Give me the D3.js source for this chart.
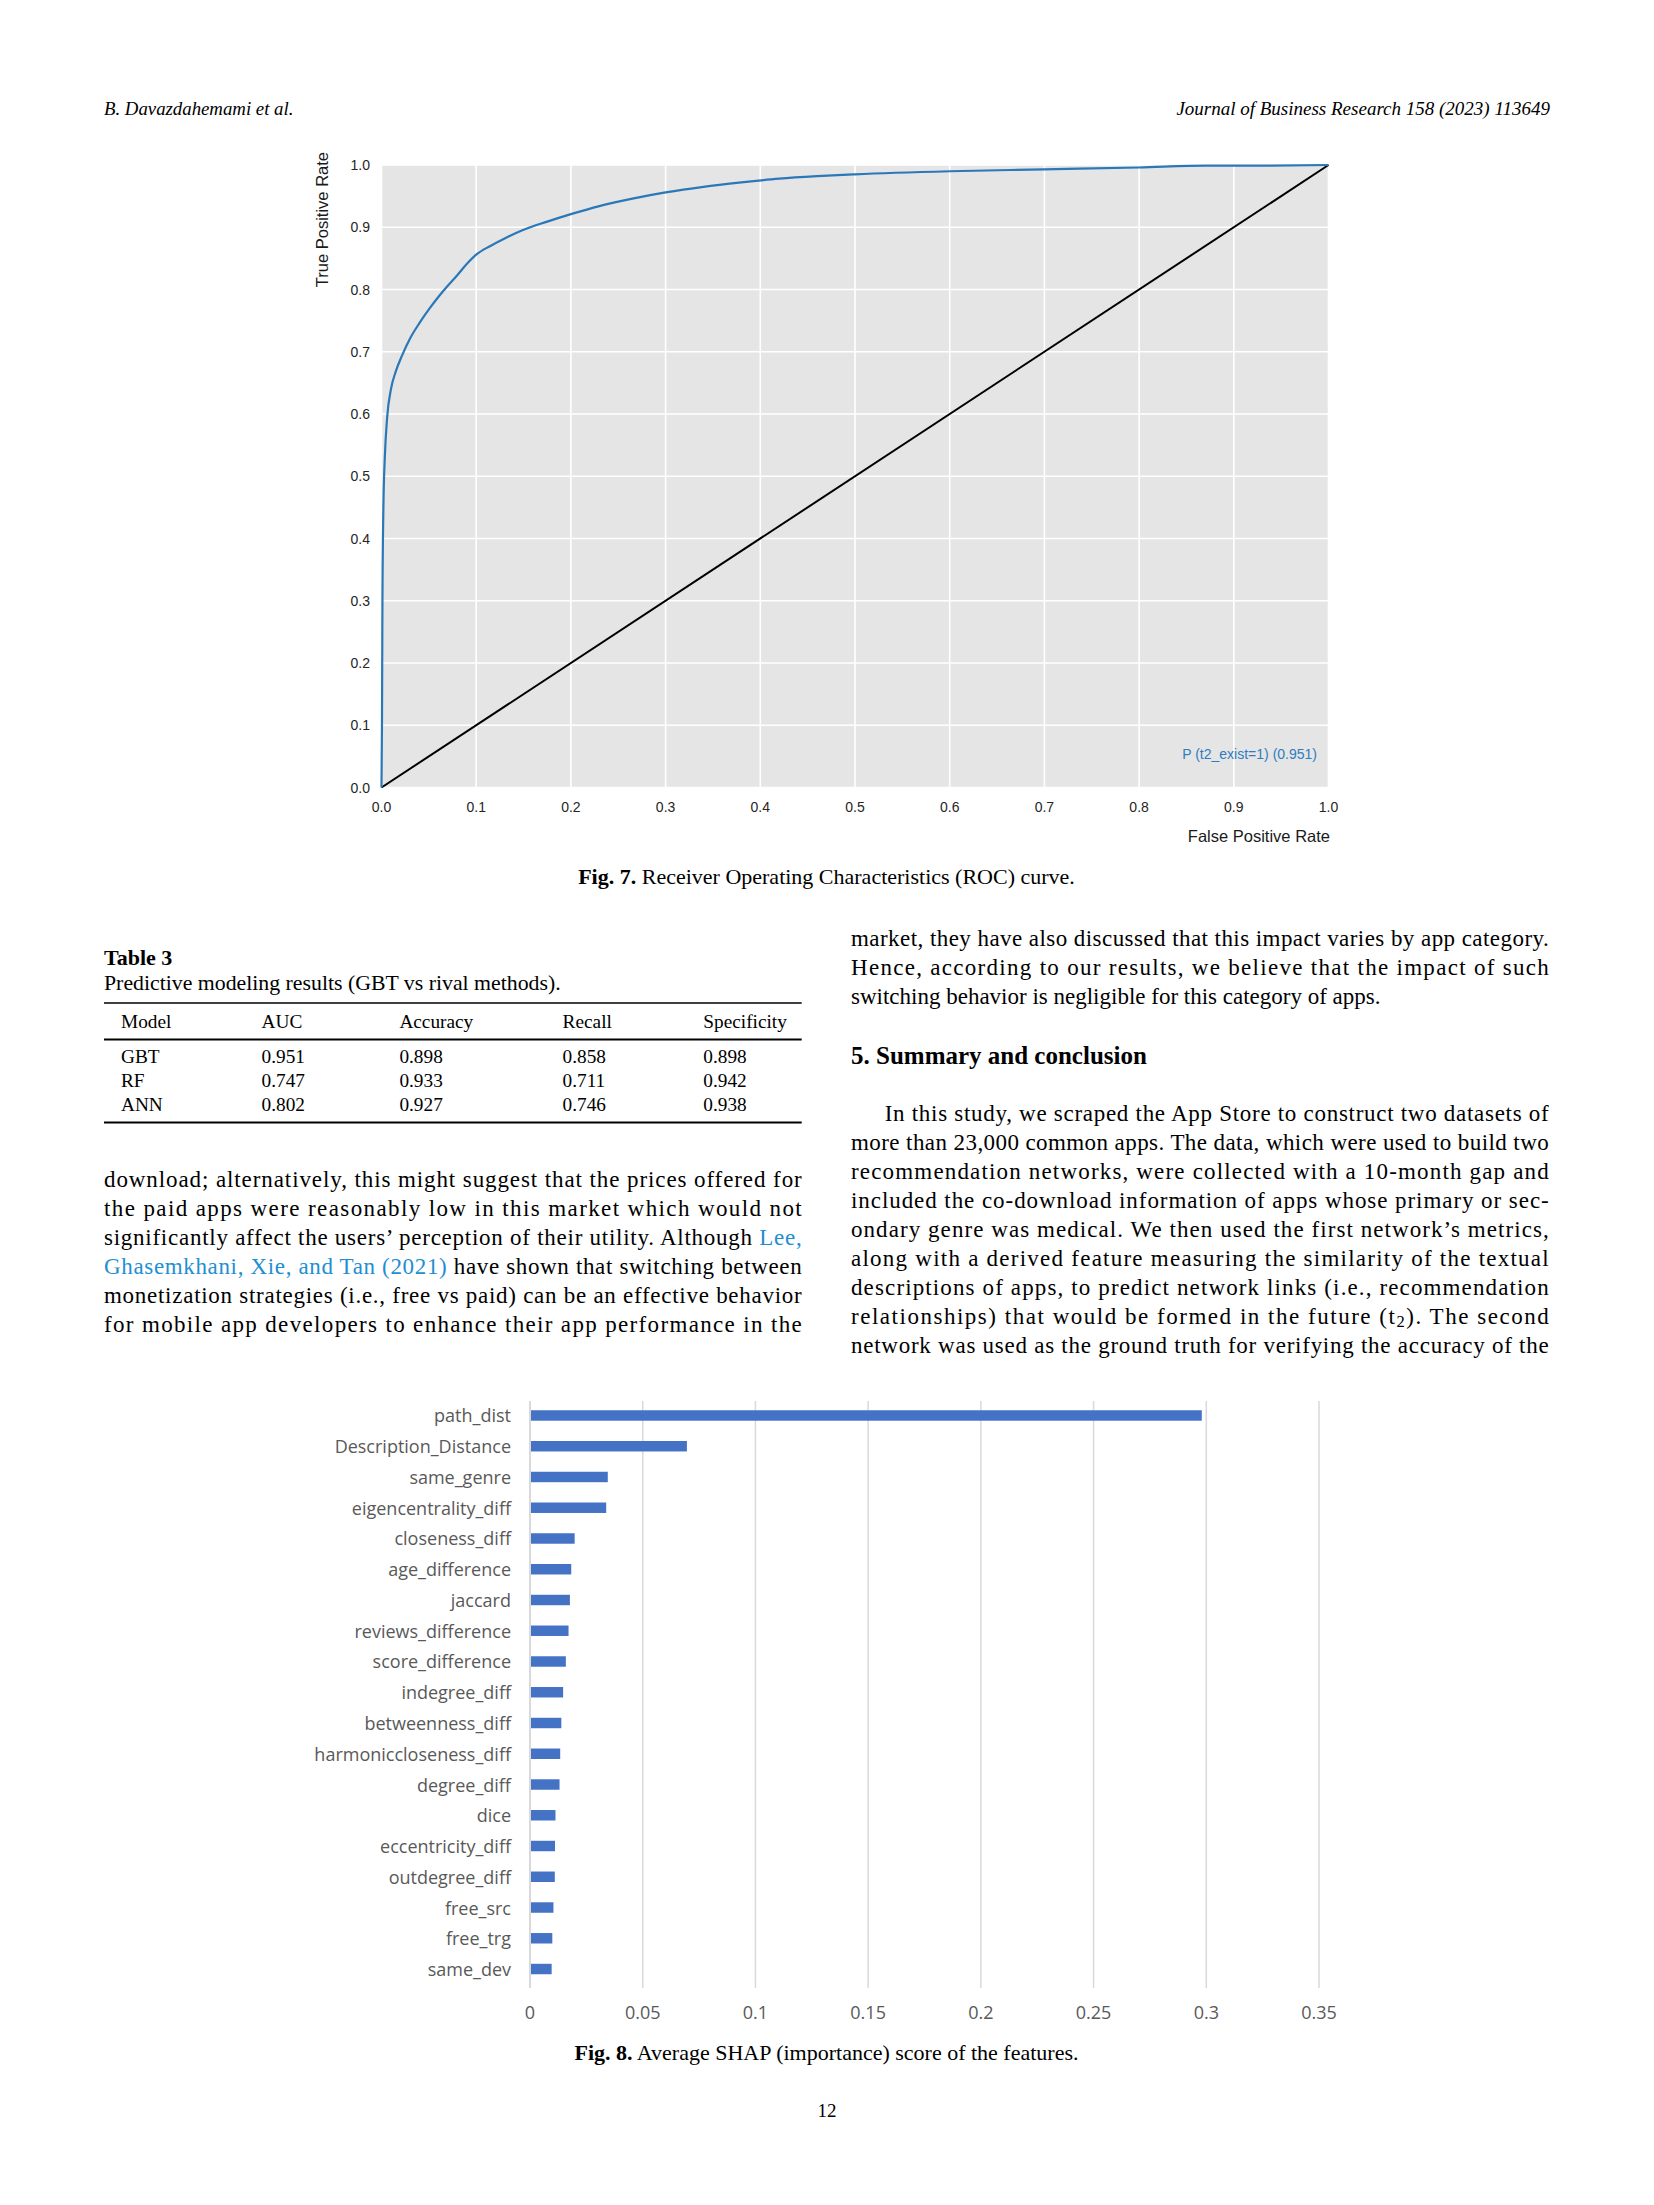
<!DOCTYPE html>
<html><head><meta charset="utf-8">
<script src="https://cdn.jsdelivr.net/npm/d3@7"></script>
<style>html,body{margin:0;padding:0;background:#fff}svg{display:block}</style>
</head><body>
<svg id="page" width="1654" height="2205"></svg>
<script>
// ---------------- DATA ----------------
const rocFPR = [0, 0.0005, 0.001, 0.002, 0.0035, 0.006, 0.010, 0.015, 0.022, 0.030, 0.040, 0.050, 0.060, 0.070, 0.080, 0.090, 0.100, 0.115, 0.130, 0.150, 0.175, 0.200, 0.230, 0.265, 0.300, 0.340, 0.380, 0.420, 0.460, 0.500, 0.600, 0.700, 0.800, 0.870, 0.930, 1.0];
const rocTPR = [0, 0.10, 0.30, 0.45, 0.530, 0.595, 0.640, 0.668, 0.695, 0.721, 0.746, 0.768, 0.788, 0.806, 0.823, 0.841, 0.856, 0.870, 0.882, 0.896, 0.909, 0.921, 0.934, 0.946, 0.956, 0.965, 0.972, 0.978, 0.982, 0.985, 0.990, 0.993, 0.996, 0.999, 0.999, 1.0];
const rocTicks = [0, 0.1, 0.2, 0.3, 0.4, 0.5, 0.6, 0.7, 0.8, 0.9, 1.0];
const rocSeriesLabel = "P (t2_exist=1) (0.951)";

const tableColumns = ["Model", "AUC", "Accuracy", "Recall", "Specificity"];
const tableModels = ["GBT", "RF", "ANN"];
const tableAUC = ["0.951", "0.747", "0.802"];
const tableAccuracy = ["0.898", "0.933", "0.927"];
const tableRecall = ["0.858", "0.711", "0.746"];
const tableSpecificity = ["0.898", "0.942", "0.938"];

const shapFeatures = ["path_dist", "Description_Distance", "same_genre", "eigencentrality_diff", "closeness_diff", "age_difference", "jaccard", "reviews_difference", "score_difference", "indegree_diff", "betweenness_diff", "harmoniccloseness_diff", "degree_diff", "dice", "eccentricity_diff", "outdegree_diff", "free_src", "free_trg", "same_dev"];
const shapValues = [0.298, 0.0696, 0.0345, 0.0338, 0.0198, 0.0183, 0.0177, 0.0171, 0.0159, 0.0147, 0.0139, 0.0134, 0.0131, 0.0113, 0.0111, 0.0110, 0.0104, 0.0099, 0.0096];
const shapTicks = [0, 0.05, 0.1, 0.15, 0.2, 0.25, 0.3, 0.35];

// ---------------- PAGE ----------------
const svg = d3.select("#page");
const SERIF = "'Liberation Serif','Times New Roman',serif";
const SANS = "'Liberation Sans',Arial,sans-serif";
const LINK = "#1e8fd2";
const BODY = 23;

function textLine(x, y, parts, opt = {}) {
  const t = svg.append("text").attr("x", x).attr("y", y)
    .attr("font-family", opt.family || SERIF).attr("font-size", opt.size || BODY)
    .attr("fill", opt.fill || "#000").attr("dominant-baseline", "central");
  if (opt.weight) t.attr("font-weight", opt.weight);
  if (opt.style) t.attr("font-style", opt.style);
  if (opt.anchor) t.attr("text-anchor", opt.anchor);
  parts.forEach(p => {
    if (typeof p === "string") t.append("tspan").text(p);
    else {
      const s = t.append("tspan").text(p.t);
      if (p.c) s.attr("fill", p.c);
      if (p.w) s.attr("font-weight", p.w);
      if (p.sub) s.attr("font-size", "72%").attr("dy", 5);
      if (p.up) s.attr("dy", -5);
    }
  });
  if (opt.justify) t.attr("textLength", opt.justify).attr("lengthAdjust", "spacing");
  return t;
}

// header
textLine(104, 108, ["B. Davazdahemami et al."], {style: "italic", size: 18.8});
textLine(1550, 108, ["Journal of Business Research 158 (2023) 113649"], {style: "italic", size: 19, anchor: "end"});

// ---------------- ROC CHART ----------------
const rx = d3.scaleLinear().domain([0, 1]).range([381.5, 1328.5]);
const ry = d3.scaleLinear().domain([0, 1]).range([787.5, 165]);
const roc = svg.append("g");
roc.append("rect").attr("x", rx(0)).attr("y", ry(1)).attr("width", rx(1) - rx(0)).attr("height", ry(0) - ry(1)).attr("fill", "#e5e5e5");
roc.append("g").selectAll("line").data(rocTicks).join("line")
  .attr("x1", d => rx(d)).attr("x2", d => rx(d)).attr("y1", ry(0)).attr("y2", ry(1))
  .attr("stroke", "#fff").attr("stroke-width", 1.6);
roc.append("g").selectAll("line").data(rocTicks).join("line")
  .attr("y1", d => ry(d)).attr("y2", d => ry(d)).attr("x1", rx(0)).attr("x2", rx(1))
  .attr("stroke", "#fff").attr("stroke-width", 1.6);
const f1 = d3.format(".1f");
roc.append("g").selectAll("text").data(rocTicks).join("text")
  .attr("x", d => rx(d)).attr("y", 807).attr("text-anchor", "middle").attr("dominant-baseline", "central")
  .attr("font-family", SANS).attr("font-size", 14).attr("fill", "#262626").text(f1);
roc.append("g").selectAll("text").data(rocTicks).join("text")
  .attr("x", 370).attr("y", d => ry(d)).attr("text-anchor", "end").attr("dominant-baseline", "central")
  .attr("font-family", SANS).attr("font-size", 14).attr("fill", "#262626").text(f1);
roc.append("text").attr("transform", "translate(322,152) rotate(-90)").attr("text-anchor", "end")
  .attr("dominant-baseline", "central").attr("font-family", SANS).attr("font-size", 16.5).attr("fill", "#1a1a1a")
  .text("True Positive Rate");
roc.append("text").attr("x", 1330).attr("y", 836).attr("text-anchor", "end").attr("dominant-baseline", "central")
  .attr("font-family", SANS).attr("font-size", 16.5).attr("fill", "#1a1a1a").text("False Positive Rate");
roc.append("line").attr("x1", rx(0)).attr("y1", ry(0)).attr("x2", rx(1)).attr("y2", ry(1))
  .attr("stroke", "#000").attr("stroke-width", 2);
const rocPts = rocFPR.map((f, i) => [f, rocTPR[i]]);
roc.append("path").datum(rocPts)
  .attr("d", d3.line().x(d => rx(d[0])).y(d => ry(d[1])).curve(d3.curveMonotoneX))
  .attr("fill", "none").attr("stroke", "#2a78b8").attr("stroke-width", 2.2);
roc.append("text").attr("x", 1317).attr("y", 754).attr("text-anchor", "end").attr("dominant-baseline", "central")
  .attr("font-family", SANS).attr("font-size", 14).attr("fill", "#2f7cc0").text(rocSeriesLabel);

// Fig 7 caption
textLine(826.5, 876, [{t: "Fig. 7.", w: "bold"}, "  Receiver Operating Characteristics (ROC) curve."], {size: 22, anchor: "middle"});

// ---------------- TABLE 3 ----------------
textLine(104, 957, ["Table 3"], {size: 22, weight: "bold"});
textLine(104, 983, ["Predictive modeling results (GBT vs rival methods)."], {size: 21.8});
const colX = [121, 261.6, 399.4, 562.6, 703.3];
svg.append("line").attr("x1", 104).attr("x2", 801.7).attr("y1", 1003).attr("y2", 1003).attr("stroke", "#000").attr("stroke-width", 1.3);
svg.append("line").attr("x1", 104).attr("x2", 801.7).attr("y1", 1039.5).attr("y2", 1039.5).attr("stroke", "#000").attr("stroke-width", 2);
svg.append("line").attr("x1", 104).attr("x2", 801.7).attr("y1", 1122.5).attr("y2", 1122.5).attr("stroke", "#000").attr("stroke-width", 2);
tableColumns.forEach((c, i) => textLine(colX[i], 1021, [c], {size: 19.3}));
const tableRows = tableModels.map((m, i) => [m, tableAUC[i], tableAccuracy[i], tableRecall[i], tableSpecificity[i]]);
const rowY = [1056, 1080, 1103.6];
tableRows.forEach((r, ri) => r.forEach((v, ci) => textLine(colX[ci], rowY[ri], [v], {size: 19.3})));

// ---------------- BODY TEXT ----------------
const LW = 697.7, LH = 29.0;
const leftLines = [
  [["download; alternatively, this might suggest that the prices offered for"], true],
  [["the paid apps were reasonably low in this market which would not"], true],
  [["significantly affect the users’ perception of their utility. Although ", {t: "Lee,", c: LINK}], true],
  [[{t: "Ghasemkhani, Xie, and Tan (2021)", c: LINK}, " have shown that switching between"], true],
  [["monetization strategies (i.e., free vs paid) can be an effective behavior"], true],
  [["for mobile app developers to enhance their app performance in the"], true]
];
leftLines.forEach((l, i) => textLine(104, 1178.6 + i * LH, l[0], {justify: l[1] ? LW : null}));

const rightTop = [
  [["market, they have also discussed that this impact varies by app category."], true],
  [["Hence, according to our results, we believe that the impact of such"], true],
  [["switching behavior is negligible for this category of apps."], false]
];
rightTop.forEach((l, i) => textLine(851, 938.2 + i * 28.8, l[0], {justify: l[1] ? LW : null}));
textLine(851, 1055, ["5.  Summary and conclusion"], {size: 25, weight: "bold"});
const rightPara = [
  [["In this study, we scraped the App Store to construct two datasets of"], 33.7],
  [["more than 23,000 common apps. The data, which were used to build two"], 0],
  [["recommendation networks, were collected with a 10-month gap and"], 0],
  [["included the co-download information of apps whose primary or sec-"], 0],
  [["ondary genre was medical. We then used the first network’s metrics,"], 0],
  [["along with a derived feature measuring the similarity of the textual"], 0],
  [["descriptions of apps, to predict network links (i.e., recommendation"], 0],
  [["relationships) that would be formed in the future (t", {t: "2", sub: true}, {t: "). The second", up: true}], 0],
  [["network was used as the ground truth for verifying the accuracy of the"], 0]
];
rightPara.forEach((l, i) => textLine(851 + l[1], 1112.5 + i * 29.03, l[0], {justify: LW - l[1]}));

// ---------------- SHAP BAR CHART ----------------
const bx = d3.scaleLinear().domain([0, 0.35]).range([530, 1319]);
const by = d3.scaleBand().domain(shapFeatures).range([1400.1, 1984.4]).paddingInner(0.66).paddingOuter(0.33);
const bar = svg.append("g");
bar.append("g").selectAll("line").data(shapTicks).join("line")
  .attr("x1", d => bx(d)).attr("x2", d => bx(d)).attr("y1", 1401).attr("y2", 1988)
  .attr("stroke", "#d9d9d9").attr("stroke-width", d => d === 0 ? 2 : 1.5);
bar.append("g").selectAll("rect").data(shapFeatures).join("rect")
  .attr("x", bx(0) + 1).attr("y", d => by(d)).attr("height", by.bandwidth())
  .attr("width", (d, i) => bx(shapValues[i]) - bx(0) - 1).attr("fill", "#4472c4");
bar.append("g").selectAll("text").data(shapFeatures).join("text")
  .attr("x", 511).attr("y", d => by(d) + by.bandwidth() / 2).attr("text-anchor", "end").attr("dominant-baseline", "central")
  .attr("font-family", "'Open Sans',sans-serif").attr("font-size", 18).attr("fill", "#595959").text(d => d);
bar.append("g").selectAll("text").data(shapTicks).join("text")
  .attr("x", d => bx(d)).attr("y", 2012).attr("text-anchor", "middle").attr("dominant-baseline", "central")
  .attr("font-family", "'Open Sans',sans-serif").attr("font-size", 18).attr("fill", "#595959")
  .text(d => String(+d.toFixed(2)));

// Fig 8 caption
textLine(826.5, 2052, [{t: "Fig. 8.", w: "bold"}, "  Average SHAP (importance) score of the features."], {size: 22, anchor: "middle"});

// page number
textLine(827, 2110, ["12"], {size: 19, anchor: "middle"});
</script>
</body></html>
